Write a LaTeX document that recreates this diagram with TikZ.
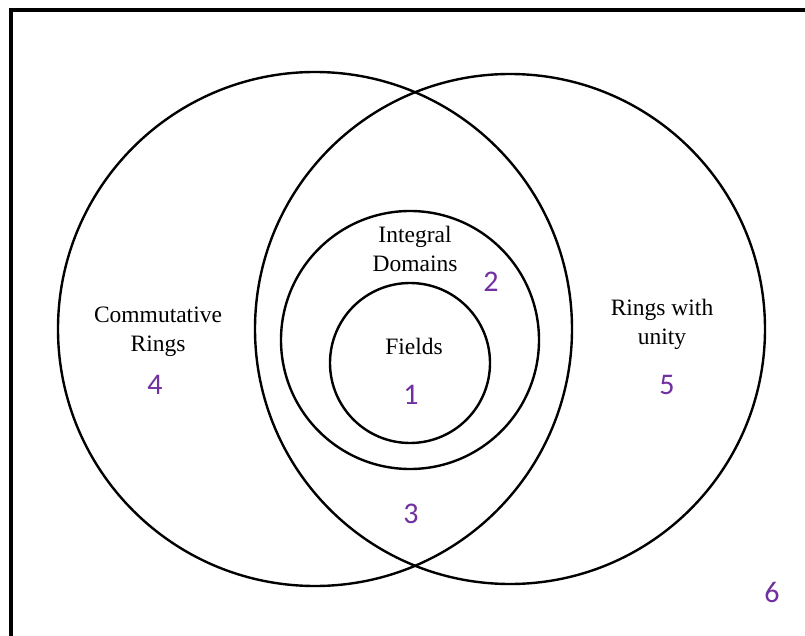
\documentclass[tikz,border=0pt]{standalone}
\usepackage{fontspec}
\setmainfont{Liberation Serif}
\newfontfamily\numfont{Carlito}
\definecolor{numpurple}{HTML}{7030A0}
\begin{document}
\begin{tikzpicture}[x=1pt,y=-1pt,
  venn/.style={draw=black, line width=2.4pt, circle, inner sep=0pt},
  lbl/.style={font=\fontsize{23.5}{29}\selectfont, align=center, text=black},
  num/.style={font=\numfont\fontsize{30}{30}\selectfont, text=numpurple}]
\useasboundingbox (0,0) rectangle (805,636);
\fill[white] (0,0) rectangle (805,636);
\clip (0,0) rectangle (805,636);
\draw[line width=3.5pt] (11,10) rectangle (830,660);
\node[venn, minimum size=514pt] (comm) at (315,329) {};
\node[venn, minimum size=510pt] (unity) at (510,329) {};
\node[venn, minimum size=258pt] (integ) at (410,340) {};
\node[venn, minimum size=160pt] (fields) at (410,363) {};
\node[lbl] (tcomm) at (158,332) {Commutative\\Rings};
\node[lbl] (tunity) at (662,324) {Rings with\\unity};
\node[lbl] (tinteg) at (415,249) {Integral\\Domains};
\node[lbl] (tfields) at (414,346) {Fields};
\node[num] (n1) at (411,395) {1};
\node[num] (n2) at (491,282) {2};
\node[num] (n3) at (411,514) {3};
\node[num] (n4) at (155,385) {4};
\node[num] (n5) at (667,385) {5};
\node[num] (n6) at (772,592) {6};
\end{tikzpicture}
\end{document}
